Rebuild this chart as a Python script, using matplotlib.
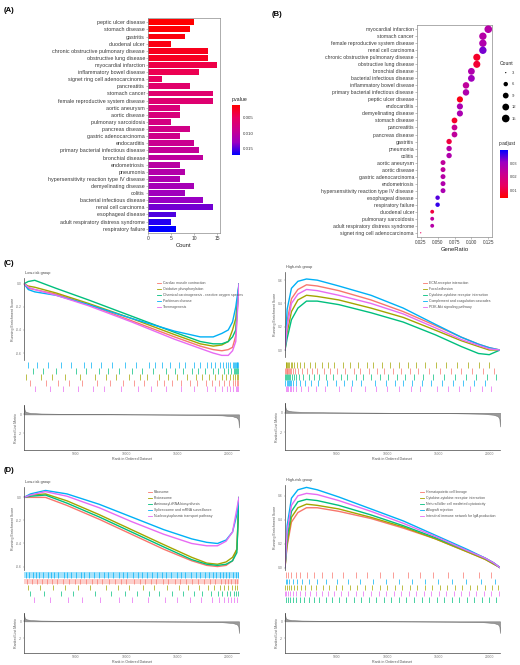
import numpy as np
import matplotlib
matplotlib.use("Agg")
import matplotlib.pyplot as plt
from matplotlib.colors import LinearSegmentedColormap, Normalize
from matplotlib.cm import ScalarMappable
from matplotlib.lines import Line2D

plt.rcParams['font.family'] = ['Liberation Sans', 'DejaVu Sans']

# ---------------- Panel A data ----------------
terms_A = ["peptic ulcer disease", "stomach disease", "gastritis", "duodenal ulcer",
           "chronic obstructive pulmonary disease", "obstructive lung disease",
           "myocardial infarction", "inflammatory bowel disease",
           "signet ring cell adenocarcinoma", "pancreatitis", "stomach cancer",
           "female reproductive system disease", "aortic aneurysm", "aortic disease",
           "pulmonary sarcoidosis", "pancreas disease", "gastric adenocarcinoma",
           "endocarditis", "primary bacterial infectious disease", "bronchial disease",
           "endometriosis", "pneumonia", "hypersensitivity reaction type IV disease",
           "demyelinating disease", "colitis", "bacterial infectious disease",
           "renal cell carcinoma", "esophageal disease",
           "adult respiratory distress syndrome", "respiratory failure"]
count_A = [10, 9, 8, 5, 13, 13, 15, 11, 3, 9, 14, 14, 7, 7, 5, 9, 7, 10, 11, 12,
           7, 8, 7, 10, 8, 12, 14, 6, 5, 6]
pvalue_A = [0.0010, 0.0012, 0.0015, 0.0018, 0.0022, 0.0024, 0.0040, 0.0045, 0.0050,
            0.0060, 0.0062, 0.0064, 0.0070, 0.0072, 0.0078, 0.0082, 0.0085, 0.0090,
            0.0095, 0.0100, 0.0105, 0.0110, 0.0115, 0.0120, 0.0125, 0.0130, 0.0140,
            0.0150, 0.0160, 0.0170]
pvalue_ticks = [0.005, 0.010, 0.015]
count_ticks = [0, 5, 10, 15]

# ---------------- Panel B data ----------------
terms_B = ["myocardial infarction", "stomach cancer", "female reproductive system disease",
           "renal cell carcinoma", "chronic obstructive pulmonary disease",
           "obstructive lung disease", "bronchial disease", "bacterial infectious disease",
           "inflammatory bowel disease", "primary bacterial infectious disease",
           "peptic ulcer disease", "endocarditis", "demyelinating disease",
           "stomach disease", "pancreatitis", "pancreas disease", "gastritis", "pneumonia",
           "colitis", "aortic aneurysm", "aortic disease", "gastric adenocarcinoma",
           "endometriosis", "hypersensitivity reaction type IV disease",
           "esophageal disease", "respiratory failure", "duodenal ulcer",
           "pulmonary sarcoidosis", "adult respiratory distress syndrome",
           "signet ring cell adenocarcinoma"]
ratio_B = [0.125, 0.117, 0.117, 0.117, 0.108, 0.108, 0.100, 0.100, 0.092, 0.092,
           0.083, 0.083, 0.083, 0.075, 0.075, 0.075, 0.067, 0.067, 0.067, 0.058,
           0.058, 0.058, 0.058, 0.058, 0.050, 0.050, 0.042, 0.042, 0.042, 0.025]
count_B = [15, 14, 14, 14, 13, 13, 12, 12, 11, 11, 10, 10, 10, 9, 9, 9, 8, 8, 8, 7,
           7, 7, 7, 7, 6, 6, 5, 5, 5, 3]
padj_B = [0.026, 0.026, 0.027, 0.033, 0.008, 0.009, 0.027, 0.030, 0.024, 0.027,
          0.006, 0.028, 0.028, 0.008, 0.022, 0.024, 0.010, 0.026, 0.027, 0.024,
          0.024, 0.026, 0.027, 0.028, 0.035, 0.037, 0.010, 0.024, 0.026, 0.013]
ratio_ticks = [0.025, 0.050, 0.075, 0.100, 0.125]
padj_ticks = [0.01, 0.02, 0.03]
count_legend = [3, 6, 9, 12, 15]

# ---------------- GSEA data (C, D) ----------------
N_GENES = 21000
rank_ticks = [5000, 10000, 15000, 20000]
metric_pct = [0, 0.2, 0.5, 1, 3, 8, 20, 50, 80, 92, 97, 99, 99.7, 100]
metric_val = [1.0, 0.55, 0.35, 0.25, 0.15, 0.09, 0.05, 0.0, -0.05, -0.1, -0.2, -0.35, -0.6, -1.4]

hue5 = ["#F8766D", "#A3A500", "#00BF7D", "#00B0F6", "#E76BF3"]

# C left
title_CL = "Low-risk group"
names_CL = ["Cardiac muscle contraction", "Oxidative phosphorylation",
            "Chemical carcinogenesis - reactive oxygen species", "Parkinson disease",
            "Thermogenesis"]
pct_CL = [0, 2, 5, 15, 30, 50, 70, 82, 88, 92, 95, 97, 98.5, 100]
es_CL = [
    [0, -0.04, -0.05, -0.09, -0.18, -0.32, -0.46, -0.54, -0.57, -0.58, -0.57, -0.55, -0.45, 0],
    [0, -0.02, -0.03, -0.08, -0.17, -0.30, -0.44, -0.52, -0.54, -0.53, -0.50, -0.40, -0.30, 0],
    [0, 0.02, 0.03, -0.04, -0.14, -0.28, -0.42, -0.50, -0.52, -0.52, -0.50, -0.46, -0.40, 0],
    [0, -0.05, -0.07, -0.10, -0.18, -0.30, -0.41, -0.46, -0.46, -0.43, -0.40, -0.33, -0.20, 0],
    [0, -0.03, -0.05, -0.10, -0.19, -0.33, -0.48, -0.56, -0.60, -0.62, -0.62, -0.58, -0.50, 0],
]
hits_CL = [
    [3, 10, 16, 21, 27, 34, 40, 46, 51, 56, 62, 65, 69, 73, 77, 80.5, 84.5, 87.5, 90.5, 93, 95.5, 97, 98.3, 99.1, 99.7],
    [1, 8, 13, 19, 26, 33, 38, 43, 49, 54, 57, 63, 67, 71, 76, 80, 83, 86, 89, 92, 94, 96, 97, 98, 99, 99.5],
    [4, 9, 15, 24, 29, 35, 39, 44, 50, 55, 60, 66, 70, 74, 78, 81, 84, 88, 90, 93, 95, 96.5, 97.5, 98.2, 98.8, 99.2, 99.6],
    [2, 6, 11, 17, 22, 28, 31, 36, 41, 47, 52, 58, 61, 64, 68, 72, 75, 79, 82, 85, 87, 89, 91, 92.5, 94, 95, 96, 97, 97.5, 98, 98.5, 99, 99.3, 99.6],
    [5, 12, 18, 25, 32, 37, 45, 53, 59, 66, 73, 79, 85, 89, 92, 94.5, 96, 97.3, 98.4, 99, 99.5],
]
ylim_CL = (-0.66, 0.05)
ticks_CL = [-0.6, -0.4, -0.2, 0.0]

# C right
title_CR = "High-risk group"
names_CR = ["ECM-receptor interaction", "Focal adhesion",
            "Cytokine-cytokine receptor interaction",
            "Complement and coagulation cascades", "PI3K-Akt signaling pathway"]
pct_CR = [0, 1, 3, 6, 10, 15, 25, 40, 55, 70, 82, 90, 95, 100]
es_CR = [
    [0, 0.25, 0.44, 0.52, 0.56, 0.55, 0.51, 0.43, 0.33, 0.21, 0.11, 0.05, 0.02, 0],
    [0, 0.15, 0.33, 0.43, 0.47, 0.46, 0.43, 0.36, 0.28, 0.17, 0.08, 0.03, 0.0, 0],
    [0, 0.10, 0.26, 0.36, 0.42, 0.42, 0.39, 0.32, 0.24, 0.13, 0.03, -0.03, -0.04, 0],
    [0, 0.35, 0.53, 0.59, 0.61, 0.60, 0.55, 0.47, 0.36, 0.22, 0.11, 0.05, 0.02, 0],
    [0, 0.20, 0.40, 0.48, 0.52, 0.51, 0.47, 0.40, 0.31, 0.19, 0.09, 0.04, 0.01, 0],
]
hits_CR = [
    [0.2, 0.5, 0.8, 1.1, 1.5, 1.9, 2.4, 3, 3.7, 4.5, 6, 8, 10, 12.5, 15, 18, 21, 24, 28, 32, 35, 39, 43, 46, 50, 54, 58, 62, 67, 72, 77, 82, 87, 92, 97],
    [0.3, 0.6, 1.0, 1.4, 2, 2.7, 3.4, 4.2, 5.5, 7, 9, 11.5, 14, 17, 20, 23, 27, 30, 34, 38, 41, 45, 49, 53, 57, 61, 65, 70, 75, 80, 85, 90, 95],
    [0.1, 0.4, 0.9, 1.3, 1.8, 2.5, 3.2, 4, 5, 6.5, 8.5, 11, 13.5, 16, 19, 22.5, 26, 29, 33, 36.5, 40, 44, 48, 52, 56, 60, 64, 69, 74, 79, 84, 89, 94, 98],
    [0.2, 0.7, 1.2, 1.7, 2.3, 3, 3.9, 5, 6.8, 9.5, 12, 15.5, 19.5, 23.5, 27.5, 31, 35.5, 42, 47, 51, 55, 59, 63.5, 68, 73, 78, 83, 88, 93],
    [0.3, 0.8, 1.4, 2.1, 2.9, 3.8, 5.2, 7.5, 10.5, 14.5, 18.5, 25, 30.5, 37, 42.5, 47.5, 53, 58.5, 63, 70.5, 76, 81, 86, 91.5, 96],
]
ylim_CR = (-0.06, 0.67)
ticks_CR = [0.0, 0.2, 0.4, 0.6]

# D left
title_DL = "Low-risk group"
names_DL = ["Ribosome", "Proteasome", "Aminoacyl-tRNA biosynthesis",
            "Spliceosome and mRNA surveillance", "Nucleocytoplasmic transport pathway"]
pct_DL = [0, 3, 10, 20, 35, 50, 65, 78, 85, 90, 94, 97, 99, 100]
es_DL = [
    [0, 0.0, 0.0, -0.07, -0.19, -0.32, -0.45, -0.55, -0.59, -0.60, -0.59, -0.55, -0.45, 0],
    [0, 0.02, 0.03, -0.03, -0.15, -0.28, -0.41, -0.52, -0.57, -0.58, -0.56, -0.52, -0.45, 0],
    [0, 0.01, 0.02, -0.05, -0.17, -0.30, -0.43, -0.54, -0.58, -0.59, -0.58, -0.55, -0.48, 0],
    [0, 0.03, 0.06, 0.03, -0.06, -0.17, -0.28, -0.36, -0.39, -0.40, -0.37, -0.30, -0.15, 0],
    [0, 0.02, 0.05, 0.01, -0.09, -0.21, -0.32, -0.40, -0.42, -0.42, -0.38, -0.30, -0.10, 0],
]
hits_DL = [
    [1.5, 3.5, 6, 8.5, 10.5, 13, 15.5, 18, 21, 23.5, 26, 29, 31.5, 34, 36.5, 39.5, 42.5, 45, 47.5, 51, 54, 56.5, 59, 61.5, 64.5, 67, 70, 72.5, 75.5, 78, 81, 83.5, 86.5, 89, 91.5, 93.5, 95, 96.5, 98, 99],
    [2, 7.5, 13.5, 19, 25, 30.5, 38, 43.5, 49, 55.5, 60.5, 66.5, 72, 76.5, 81.5, 85.5, 88.5, 91, 93, 95, 96.8, 98.2, 99.3],
    [3, 9.5, 17, 23, 33, 40.5, 47, 52.5, 58, 63, 69, 74, 79, 83, 87, 90, 92, 94.2, 96, 97.5, 98.8, 99.6],
    [1, 2.5, 4, 5.5, 7, 9, 11, 12.5, 14, 16, 18.5, 20, 22, 24, 26.5, 28, 30, 32.5, 35, 37, 39, 41.5, 44, 46, 48, 50.5, 53, 55, 57, 59.5, 62, 64, 66, 68.5, 71, 73, 75, 77.5, 80, 82, 84, 86, 88, 89.5, 91, 92.5, 94, 95.5, 97, 98.5, 99.5],
    [4.5, 12, 20.5, 27, 35.5, 44, 50, 57.5, 65.5, 71, 77, 82.5, 87.5, 90.5, 93, 95, 96.5, 97.8, 99],
]
ylim_DL = (-0.63, 0.09)
ticks_DL = [-0.6, -0.4, -0.2, 0.0]

# D right
title_DR = "High-risk group"
names_DR = ["Hematopoietic cell lineage", "Cytokine-cytokine receptor interaction",
            "Natural killer cell mediated cytotoxicity", "Allograft rejection",
            "Intestinal immune network for IgA production"]
pct_DR = [0, 1, 3, 6, 10, 15, 25, 40, 55, 70, 85, 93, 97, 100]
es_DR = [
    [0, 0.18, 0.38, 0.46, 0.50, 0.50, 0.47, 0.41, 0.33, 0.24, 0.13, 0.07, 0.03, 0],
    [0, 0.20, 0.42, 0.50, 0.53, 0.52, 0.49, 0.42, 0.34, 0.24, 0.13, 0.07, 0.03, 0],
    [0, 0.25, 0.47, 0.55, 0.57, 0.56, 0.52, 0.44, 0.35, 0.25, 0.14, 0.08, 0.04, 0],
    [0, 0.35, 0.58, 0.65, 0.67, 0.65, 0.59, 0.49, 0.39, 0.27, 0.15, 0.08, 0.04, 0],
    [0, 0.30, 0.52, 0.60, 0.62, 0.61, 0.56, 0.47, 0.37, 0.26, 0.14, 0.08, 0.04, 0],
]
hits_DR = [
    [0.5, 1.5, 3, 5, 7, 10, 13.5, 17, 22, 27, 33, 38, 44, 50, 57, 63, 69, 76, 83, 90, 96],
    [0.2, 0.8, 1.7, 2.8, 4, 5.5, 7.5, 9.5, 12, 14.5, 17.5, 20.5, 23.5, 26.5, 30, 33.5, 37, 40.5, 44, 47.5, 51, 54.5, 58, 61.5, 65, 68.5, 72, 75.5, 79, 82.5, 86, 89.5, 93, 96.5, 99],
    [0.4, 1.2, 2.3, 3.6, 5, 6.8, 8.8, 11, 13.5, 16, 19, 22, 25, 28.5, 32, 35.5, 39, 42.5, 46, 49.5, 53, 56.5, 60, 63.5, 67, 70.5, 74, 77.5, 81, 84.5, 88, 91.5, 95, 98],
    [0.3, 1, 2, 3.5, 5.5, 8, 11, 15, 19, 24, 29.5, 35, 41, 47, 53, 59, 65, 71, 77.5, 84, 91, 97.5],
    [0.1, 0.6, 1.4, 2.5, 3.8, 5.3, 7.2, 9.3, 11.7, 14.2, 17, 20, 23, 26, 29.5, 33, 36.5, 40, 43.5, 47, 50.5, 54, 57.5, 61, 64.5, 68, 71.5, 75, 78.5, 82, 85.5, 89, 92.5, 96, 99.5],
]
ylim_DR = (-0.02, 0.69)
ticks_DR = [0.0, 0.2, 0.4, 0.6]

# ---------------- figure ----------------
W, H = 520, 665
fig = plt.figure(figsize=(W / 100, H / 100), dpi=100)
fig.patch.set_facecolor("white")


def ax_px(x0, y0, x1, y1):
    return fig.add_axes([x0 / W, 1 - y1 / H, (x1 - x0) / W, (y1 - y0) / H])


def fig_text(x, y, s, **kw):
    fig.text(x / W, 1 - y / H, s, **kw)


cmap_rb = LinearSegmentedColormap.from_list(
    "rb", ["#FF0000", "#E9005F", "#CA0090", "#9B00C2", "#0000FF"])
frame_col = "#8c8c8c"
txt_col = "#3a3a3a"

# ---- Panel A ----
fig_text(4, 11, "(A)", fontsize=5.5, fontweight="bold", va="center")
axA = ax_px(148, 18, 220, 233)
normA = Normalize(vmin=min(pvalue_A), vmax=max(pvalue_A))
yA = np.arange(len(terms_A))
axA.barh(yA, count_A, height=0.82, color=cmap_rb(normA(np.array(pvalue_A))))
axA.set_ylim(len(terms_A) - 0.4, -0.6)
axA.set_xlim(0, 15.6)
axA.set_yticks(yA)
axA.set_yticklabels(terms_A, fontsize=3.9, color=txt_col)
axA.set_xticks(count_ticks)
axA.set_xticklabels([str(t) for t in count_ticks], fontsize=3.6, color=txt_col)
axA.set_xlabel("Count", fontsize=4.2, labelpad=1.5, color="#222")
axA.tick_params(length=1.2, width=0.4, pad=1, colors=frame_col, labelcolor=txt_col)
for sp in axA.spines.values():
    sp.set_color(frame_col)
    sp.set_linewidth(0.5)

caxA = ax_px(232, 105, 240, 155)
smA = ScalarMappable(norm=normA, cmap=cmap_rb)
cbA = fig.colorbar(smA, cax=caxA, ticks=pvalue_ticks)
caxA.invert_yaxis()
cbA.outline.set_visible(False)
cbA.ax.tick_params(labelsize=3.2, length=1.2, width=0.4, pad=1, colors="white",
                   labelcolor=txt_col)
cbA.ax.set_yticklabels(["%.3f" % t for t in pvalue_ticks])
fig_text(232, 100, "pvalue", fontsize=3.8, color="#222", va="center")

# ---- Panel B ----
fig_text(272, 15, "(B)", fontsize=5.5, fontweight="bold", va="center")
axB = ax_px(417, 25, 492, 237)
normB = Normalize(vmin=0.004, vmax=0.040)
yB = np.arange(len(terms_B))
cnt = np.array(count_B, dtype=float)
diam = 0.9 + 4.6 * np.sqrt((cnt - 3) / 12.0)
axB.scatter(ratio_B, yB, s=diam ** 2, c=cmap_rb(normB(np.array(padj_B))),
            edgecolors="none", zorder=3)
axB.set_ylim(len(terms_B) - 0.4, -0.6)
axB.set_xlim(0.0195, 0.1305)
axB.set_yticks(yB)
axB.set_yticklabels(terms_B, fontsize=3.7, color=txt_col)
axB.set_xticks(ratio_ticks)
axB.set_xticklabels(["%.3f" % t for t in ratio_ticks], fontsize=3.3, color=txt_col)
axB.set_xlabel("GeneRatio", fontsize=4.2, labelpad=1.5, color="#222")
axB.tick_params(length=1.2, width=0.4, pad=1, colors=frame_col, labelcolor=txt_col)
for sp in axB.spines.values():
    sp.set_color(frame_col)
    sp.set_linewidth(0.5)

# Count legend
axL = ax_px(497, 60, 520, 130)
axL.set_xlim(0, 1)
axL.set_ylim(len(count_legend) + 0.2, -0.9)
axL.axis("off")
cl = np.array(count_legend, dtype=float)
axL.scatter([0.38] * len(cl), np.arange(len(cl)) + 0.2,
            s=(0.9 + 4.6 * np.sqrt((cl - 3) / 12.0)) ** 2, c="black", edgecolors="none")
for i, v in enumerate(count_legend):
    axL.text(0.66, i + 0.2, str(v), fontsize=3.0, va="center", color=txt_col)
axL.text(0.1, -0.6, "Count", fontsize=3.6, va="center", color="#222")

caxB = ax_px(500, 150, 508, 198)
smB = ScalarMappable(norm=normB, cmap=cmap_rb)
cbB = fig.colorbar(smB, cax=caxB, ticks=padj_ticks)
cbB.outline.set_visible(False)
cbB.ax.tick_params(labelsize=2.8, length=1.0, width=0.4, pad=0.6, colors="white",
                   labelcolor=txt_col)
fig_text(499, 144, "p.adjust", fontsize=3.4, color="#222", va="center")


# ---- GSEA panels ----
def gsea(x0, x1, es_y, rug_y, m_y, title, names, pct, es_list, hits, ylim, yticks,
         leg_xy, row_order, band_sets=()):
    N = N_GENES
    ax1 = ax_px(x0, es_y[0], x1, es_y[1])
    xr = np.array(pct) / 100.0 * N
    for es, c, nm in zip(es_list, hue5, names):
        ax1.plot(xr, es, color=c, lw=1.0, solid_capstyle="round", label=nm)
    ax1.set_xlim(0, N)
    ax1.set_ylim(*ylim)
    ax1.set_xticks([])
    ax1.set_yticks(yticks)
    ax1.set_yticklabels(["%.1f" % t for t in yticks], fontsize=2.4, color="#666")
    ax1.tick_params(axis="y", length=1, width=0.3, pad=0.5, colors="#777")
    for s in ["top", "right", "bottom"]:
        ax1.spines[s].set_visible(False)
    ax1.spines["left"].set_color("#444")
    ax1.spines["left"].set_linewidth(0.5)
    ax1.set_ylabel("Running Enrichment Score", fontsize=2.6, color="#555", labelpad=1)
    handles = [Line2D([0], [0], color=c, lw=0.6) for c in hue5]
    lx = (leg_xy[0] - x0) / (x1 - x0)
    ly = 1 - (leg_xy[1] - es_y[0]) / (es_y[1] - es_y[0])
    ax1.legend(handles, names, loc="upper left", bbox_to_anchor=(lx, ly), fontsize=2.5,
               frameon=False, handlelength=1.2, handletextpad=0.6, labelspacing=0.6,
               borderaxespad=0, borderpad=0, labelcolor="#555")
    fig_text(x0 + 1, es_y[0] - 5, title, fontsize=2.8, color="#444", va="center")

    ax2 = ax_px(x0, rug_y[0], x1, rug_y[1])
    for row, k in enumerate(row_order):
        c = hue5[k]
        if k in band_sets:
            ax2.axhspan(row + 0.05, row + 0.95, color=c, alpha=0.35, lw=0)
        ax2.vlines(np.array(hits[k]) / 100.0 * N, row + 0.05, row + 0.95, color=c, lw=0.5)
    ax2.set_xlim(0, N)
    ax2.set_ylim(len(row_order), 0)
    ax2.axis("off")

    ax3 = ax_px(x0, m_y[0], x1, m_y[1])
    xm = np.array(metric_pct) / 100.0 * N
    ax3.fill_between(xm, metric_val, 0, color="#9a9a9a", lw=0.4, edgecolor="#777")
    ax3.set_xlim(0, N)
    ax3.set_ylim(-3.8, 1.0)
    ax3.set_yticks([-2, 0])
    ax3.set_yticklabels(["-2", "0"], fontsize=2.4, color="#666")
    ax3.set_xticks(rank_ticks)
    ax3.set_xticklabels([str(t) for t in rank_ticks], fontsize=2.4, color="#666")
    ax3.tick_params(length=1, width=0.3, pad=0.5, colors="#777")
    for s in ["top", "right"]:
        ax3.spines[s].set_visible(False)
    for s in ["left", "bottom"]:
        ax3.spines[s].set_color("#444")
        ax3.spines[s].set_linewidth(0.5)
    ax3.set_ylabel("Ranked List Metric", fontsize=2.6, color="#555", labelpad=1)
    ax3.set_xlabel("Rank in Ordered Dataset", fontsize=2.6, color="#555", labelpad=0.5)


fig_text(4, 263, "(C)", fontsize=5.5, fontweight="bold", va="center")
gsea(24, 239, (278, 360), (362, 392), (405, 450), title_CL, names_CL, pct_CL, es_CL,
     hits_CL, ylim_CL, ticks_CL, (157, 281), row_order=[3, 2, 1, 0, 4])
gsea(285, 500, (272, 357), (362, 392), (403, 450), title_CR, names_CR, pct_CR, es_CR,
     hits_CR, ylim_CR, ticks_CR, (423, 281), row_order=[1, 0, 2, 3, 4])

fig_text(4, 471, "(D)", fontsize=5.5, fontweight="bold", va="center")
gsea(24, 239, (487, 570), (572, 603), (613, 653), title_DL, names_DL, pct_DL, es_DL,
     hits_DL, ylim_DL, ticks_DL, (148, 490), row_order=[3, 0, 1, 2, 4],
     band_sets=(3, 0))
gsea(285, 500, (485, 570), (572, 603), (613, 653), title_DR, names_DR, pct_DR, es_DR,
     hits_DR, ylim_DR, ticks_DR, (420, 490), row_order=[0, 3, 1, 4, 2])

fig.savefig("out.png", dpi=100)
